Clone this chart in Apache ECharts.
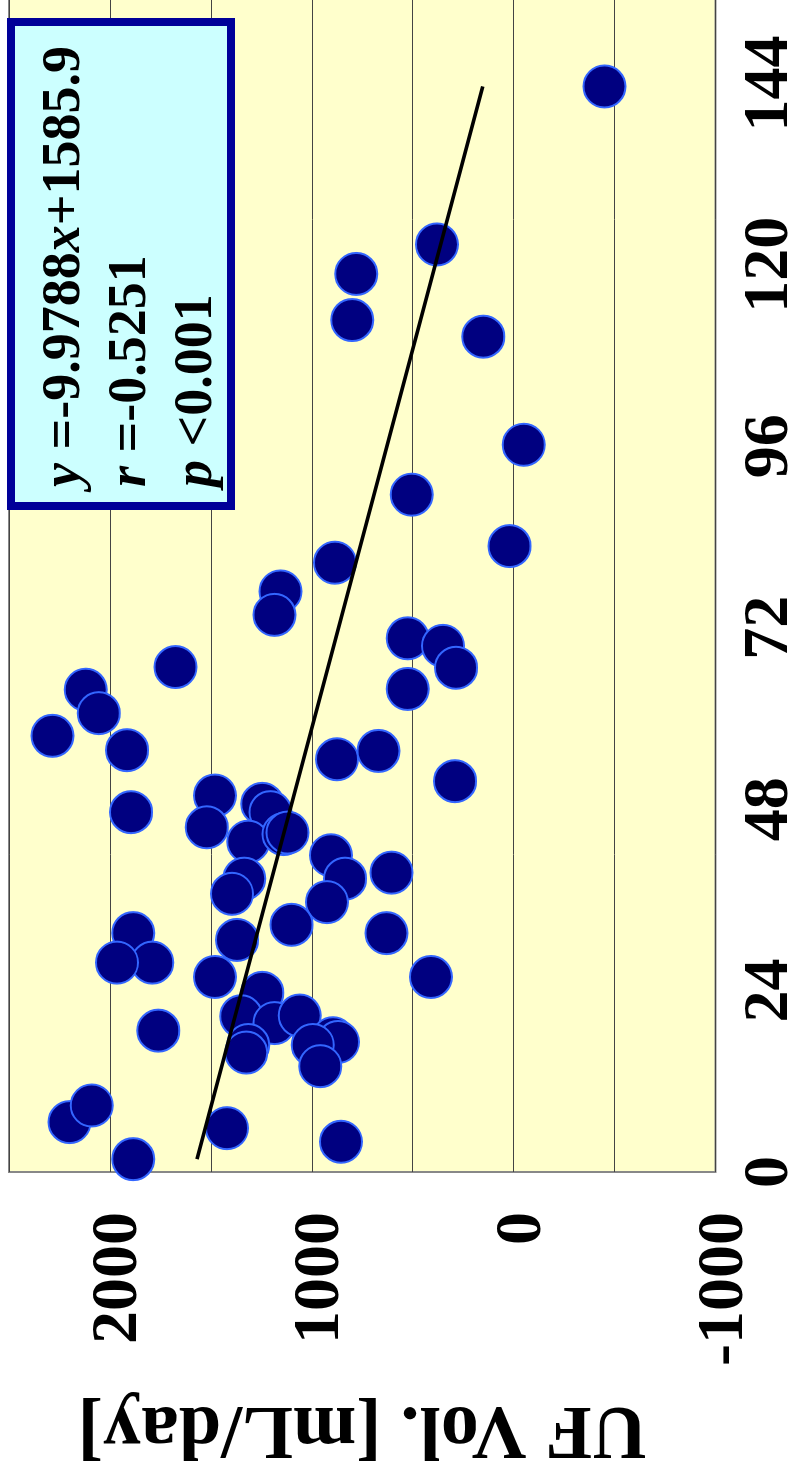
<!DOCTYPE html>
<html>
<head>
<meta charset="utf-8">
<script src="https://cdn.jsdelivr.net/npm/echarts@6.0.0/dist/echarts.min.js"></script>
<style>
  html, body { margin: 0; padding: 0; background: #fff; overflow: hidden; width: 798px; height: 1481px; }
  /* The chart is laid out landscape and turned a quarter turn counter-clockwise. */
  #chart {
    position: absolute; left: 0; top: 0;
    width: 1600px; height: 798px;
    transform-origin: 0 0;
    transform: translate(0, 1481px) rotate(-90deg);
  }
</style>
</head>
<body>
<div id="chart"></div>
<script>
// Elapsed time [h] for each measurement
const hours = [
  143.6, 122.7, 118.8, 112.7, 110.5, 96.2, 89.6, 82.8, 80.6, 76.8,
  73.7, 70.6, 69.6, 66.7, 63.9, 66.8, 63.8, 60.7, 57.7, 55.8,
  47.6, 49.8, 45.6, 48.7, 47.6, 43.7, 44.7, 44.9, 38.8, 36.8,
  54.6, 55.7, 51.7, 41.9, 38.8, 39.6, 35.7, 32.7, 30.7, 31.6,
  25.8, 25.8, 23.7, 20.6, 19.7, 20.7, 16.8, 15.8, 17.7, 17.2,
  16.8, 14.0, 31.6, 27.7, 27.7, 18.7, 6.6, 8.8, 1.7, 5.8, 4.0
];
// Ultrafiltration volume [mL/day] for each measurement
const ufVolume = [
  -450, 380, 780, 800, 150, -50, 505, 20, 885, 1155,
  1185, 525, 350, 285, 525, 1675, 2120, 2055, 2285, 1915,
  1895, 1480, 1520, 1245, 1205, 1315, 1140, 1120, 1335, 1395,
  875, 670, 290, 905, 835, 605, 925, 1100, 1370, 630,
  1480, 410, 1245, 1350, 1185, 1060, 1315, 1325, 895, 870,
  995, 958, 1885, 1790, 1965, 1760, 2200, 2090, 1885, 1420, 855
];
// Regression result
const slope = -9.9788;
const intercept = 1585.9;
const rValue = '-0.5251';
const pText = '<0.001';
// Axis ticks
const hourTicks = { min: 0, max: 168, step: 24 };
const ufTicks = { min: -1000, max: 2500, step: 500, labelStep: 1000 };

const FONT = "'Liberation Serif', 'Times New Roman', serif";

const points = hours.map((h, i) => [h, ufVolume[i]]);
const hMin = Math.min(...hours), hMax = Math.max(...hours);
const trend = [[hMin, slope * hMin + intercept], [hMax, slope * hMax + intercept]];

const chart = echarts.init(document.getElementById('chart'), null, { renderer: 'canvas' });

chart.setOption({
  animation: false,
  backgroundColor: '#ffffff',
  grid: {
    left: 309, top: 9, right: 21, bottom: 82.5,
    outerBoundsMode: 'none', containLabel: false,
    show: true, backgroundColor: '#FFFFCC', borderColor: '#888888', borderWidth: 2
  },
  xAxis: {
    type: 'value',
    min: hourTicks.min, max: hourTicks.max, interval: hourTicks.step,
    axisLine: { show: false }, axisTick: { show: false }, splitLine: { show: false },
    axisLabel: {
      margin: 23, fontSize: 64, fontWeight: 'bold', fontFamily: FONT, color: '#000',
      showMinLabel: true, showMaxLabel: true,
      formatter: v => String(v)
    }
  },
  yAxis: {
    type: 'value',
    min: ufTicks.min, max: ufTicks.max, interval: ufTicks.step,
    axisLine: { show: false }, axisTick: { show: false },
    splitLine: { show: true, lineStyle: { color: '#444444', width: 1 } },
    axisLabel: {
      margin: 40, fontSize: 66, fontWeight: 'bold', fontFamily: FONT, color: '#000',
      showMinLabel: true, showMaxLabel: true,
      formatter: v => (v % ufTicks.labelStep === 0 ? '{t|' + v + '}' : ''),
      rich: {
        t: { fontSize: 66, fontWeight: 'bold', fontFamily: FONT, color: '#000', padding: [18, 0, 0, 0] }
      }
    },
    name: 'UF Vol. [mL/day]',
    nameLocation: 'middle', nameRotate: 90, nameGap: 218,
    nameTextStyle: { fontSize: 76, fontWeight: 'bold', fontFamily: FONT, color: '#000' }
  },
  series: [
    {
      type: 'scatter',
      data: points,
      symbol: 'circle',
      symbolSize: 42,
      itemStyle: { color: '#000080', borderColor: '#3366FF', borderWidth: 2, opacity: 1 },
      z: 2
    },
    {
      type: 'line',
      data: trend,
      symbol: 'none',
      lineStyle: { color: '#000000', width: 3.5 },
      z: 3
    }
  ],
  graphic: [
    {
      type: 'rect',
      shape: { x: 975, y: 11, width: 484, height: 220 },
      style: { fill: '#CCFFFF', stroke: '#000099', lineWidth: 8 },
      z: 10
    },
    {
      type: 'text',
      x: 994, y: 32,
      style: {
        text: '{i|y} =-' + Math.abs(slope).toFixed(4) + '{i|x}+' + intercept.toFixed(1) +
              '\n{i|r} =' + rValue + '\n{i|p} ' + pText,
        fontSize: 54, fontWeight: 'bold', fontFamily: FONT, fill: '#000',
        lineHeight: 66, verticalAlign: 'top', align: 'left',
        rich: {
          i: { fontStyle: 'italic', fontWeight: 'bold', fontSize: 54, fontFamily: FONT, lineHeight: 66 }
        }
      },
      z: 11
    }
  ]
});
</script>
</body>
</html>
